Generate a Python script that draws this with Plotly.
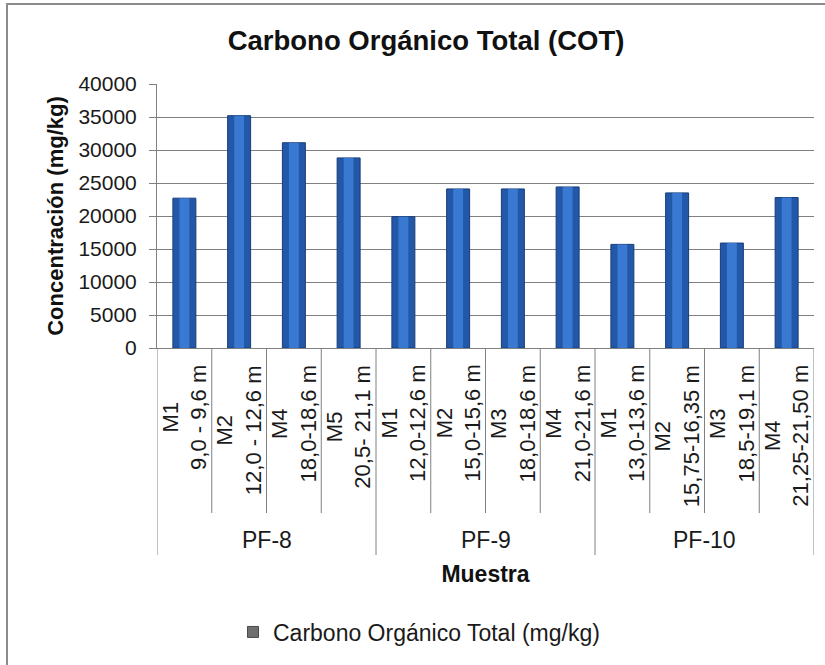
import plotly.graph_objects as go

# ---------------- data ----------------
groups = ["PF-8", "PF-8", "PF-8", "PF-8",
          "PF-9", "PF-9", "PF-9", "PF-9",
          "PF-10", "PF-10", "PF-10", "PF-10"]
samples = ["M1", "M2", "M4", "M5",
           "M1", "M2", "M3", "M4",
           "M1", "M2", "M3", "M4"]
depths = ["9,0 - 9,6 m", "12,0 - 12,6 m", "18,0-18,6 m", "20,5- 21,1 m",
          "12,0-12,6 m", "15,0-15,6 m", "18,0-18,6 m", "21,0-21,6 m",
          "13,0-13,6 m", "15,75-16,35 m", "18,5-19,1 m", "21,25-21,50 m"]
cot_values = [22700, 35200, 31100, 28800,
              19900, 24100, 24100, 24400,
              15700, 23500, 15900, 22800]
group_names = ["PF-8", "PF-9", "PF-10"]
y_ticks = [0, 5000, 10000, 15000, 20000, 25000, 30000, 35000, 40000]

series_name = "Carbono Orgánico Total (mg/kg)"
chart_title = "Carbono Orgánico Total (COT)"
x_title = "Muestra"
y_title = "Concentración (mg/kg)"

# ---------------- layout constants ----------------
W, H = 825, 665
ML, MR, MT, MB = 157, 11, 84, 317
plot_w = W - ML - MR
plot_h = H - MT - MB
bottom_px = H - MB

def py(px):
    """pixel row -> paper y"""
    return (bottom_px - px) / plot_h

def pxx(px):
    """pixel column -> paper x"""
    return (px - ML) / plot_w

FONT = "Liberation Sans, Arial, sans-serif"
GRID = "#808080"

keys = [f"{g} {s}" for g, s in zip(groups, samples)]

fig = go.Figure()

# main bars
fig.add_trace(go.Bar(
    x=keys, y=cot_values, width=0.42,
    marker=dict(color="#2358a8", line=dict(color="#173d7a", width=1)),
    name=series_name, showlegend=False,
    hovertemplate="%{x}: %{y}<extra></extra>",
))
# highlight (cylinder shine)
fig.add_trace(go.Bar(
    x=keys, y=cot_values, width=0.18,
    marker=dict(color="#3f82dc", line=dict(width=0), opacity=0.8),
    showlegend=False, hoverinfo="skip",
))
# legend entry (Excel shows a grey swatch)
fig.add_trace(go.Scatter(
    x=[None], y=[None], mode="markers", name=series_name,
    marker=dict(symbol="square", size=11, color="#6f6f6f",
                line=dict(color="#4a4a4a", width=1)),
))

shapes = []
n = len(keys)
# dividers between categories
for i in range(1, n):
    boundary = (groups[i] != groups[i - 1])
    shapes.append(dict(
        type="line", xref="x", yref="paper",
        x0=i - 0.5, x1=i - 0.5, y0=0, y1=py(555) if boundary else py(513),
        line=dict(color=GRID, width=1)))
# outer dividers
for xb in (-0.5, n - 0.5):
    shapes.append(dict(
        type="line", xref="x", yref="paper",
        x0=xb, x1=xb, y0=0, y1=py(555), line=dict(color=GRID, width=1)))
# chart frame
shapes.append(dict(
    type="rect", xref="paper", yref="paper",
    x0=pxx(7), x1=pxx(835), y0=py(4), y1=py(675),
    line=dict(color="#8c8c8c", width=2), layer="below"))

annotations = []
for i, (s, d) in enumerate(zip(samples, depths)):
    annotations.append(dict(
        x=i, xref="x", y=py(363), yref="paper",
        text=f"{s}<br>{d}", textangle=-90, showarrow=False,
        xanchor="center", yanchor="top", align="center",
        font=dict(family=FONT, size=22, color="#1a1a1a")))
for gname in group_names:
    idx = [i for i, g in enumerate(groups) if g == gname]
    annotations.append(dict(
        x=(idx[0] + idx[-1]) / 2, xref="x", y=py(540), yref="paper",
        text=gname, showarrow=False, xanchor="center", yanchor="middle",
        font=dict(family=FONT, size=23, color="#1a1a1a")))

fig.update_layout(
    width=W, height=H,
    margin=dict(l=ML, r=MR, t=MT, b=MB, autoexpand=False),
    paper_bgcolor="white", plot_bgcolor="white",
    barmode="overlay",
    font=dict(family=FONT, color="#1a1a1a"),
    title=dict(text=f"<b>{chart_title}</b>", x=426 / W, xanchor="center",
               y=1 - 40 / H, yanchor="middle",
               font=dict(family=FONT, size=27.5, color="#111111")),
    xaxis=dict(
        type="category", categoryorder="array", categoryarray=keys,
        range=[-0.5, n - 0.5],
        showticklabels=False, ticks="", showgrid=False, zeroline=False,
        showline=True, linecolor=GRID, linewidth=1,
        title=dict(text=f"<b>{x_title}</b>", standoff=217,
                   font=dict(family=FONT, size=23, color="#111111")),
    ),
    yaxis=dict(
        range=[0, 40000], tickmode="array", tickvals=y_ticks,
        ticktext=[str(v) for v in y_ticks],
        showgrid=True, gridcolor=GRID, gridwidth=1, zeroline=False,
        showline=True, linecolor=GRID, linewidth=1,
        ticks="outside", ticklen=7, tickcolor=GRID,
        ticklabelstandoff=8,
        tickfont=dict(family=FONT, size=21, color="#1a1a1a"),
        title=dict(text=f"<b>{y_title}</b>", standoff=8,
                   font=dict(family=FONT, size=22, color="#111111")),
    ),
    showlegend=True,
    legend=dict(orientation="h", x=pxx(233), xanchor="left",
                y=py(632), yanchor="middle",
                font=dict(family=FONT, size=23, color="#1a1a1a"),
                bgcolor="rgba(0,0,0,0)"),
    shapes=shapes,
    annotations=annotations,
)

fig.write_html(
    "out.html",
    config={"displayModeBar": False},
    post_script="document.body.style.margin='0px';document.body.style.overflow='hidden';",
)
